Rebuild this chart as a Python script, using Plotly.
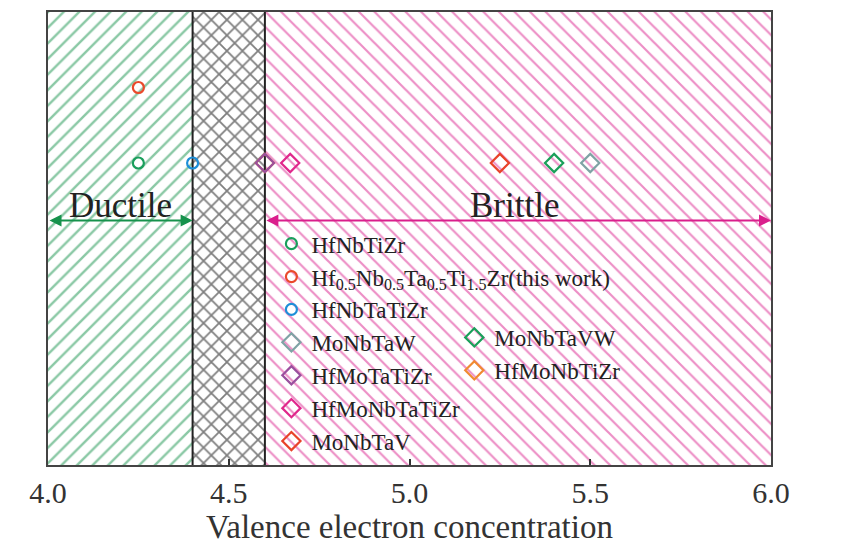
import plotly.graph_objects as go

# ---- data ----
alloys = ["HfNbTiZr", "Hf<sub>0.5</sub>Nb<sub>0.5</sub>Ta<sub>0.5</sub>Ti<sub>1.5</sub>Zr(this work)",
          "HfNbTaTiZr", "MoNbTaW", "HfMoTaTiZr", "HfMoNbTaTiZr", "MoNbTaV",
          "MoNbTaVW", "HfMoNbTiZr"]
vec = [4.25, 4.25, 4.40, 5.50, 4.60, 4.67, 5.25, 5.40, 4.60]
ypos = [2.0, 2.5, 2.0, 2.0, 2.0, 2.0, 2.0, 2.0, 2.0]
symbols = ["circle-open", "circle-open", "circle-open", "diamond-open", "diamond-open",
           "diamond-open", "diamond-open", "diamond-open", "diamond-open"]
colors = ["#1a9e5c", "#ea4a2c", "#1e8fd8", "#7fa3a5", "#9a509e", "#e0288c",
          "#e8432a", "#1aa05a", "#f08a32"]
legend_group = ["legend", "legend", "legend", "legend", "legend", "legend", "legend",
                "legend2", "legend2"]
draw_order = [8, 0, 1, 2, 3, 4, 5, 6, 7]

ductile_limit = 4.4
brittle_limit = 4.6
x_min, x_max = 4.0, 6.0
y_min, y_max = 0.0, 3.0
arrow_y = 1.62
label_y = 1.72

GREEN = "#16924c"
PINK = "#da1e8c"
FONT = "Liberation Serif"

fig = go.Figure()

# hatched regions
regions = [
    (x_min, ductile_limit, "/", GREEN, 11, 0.22),
    (ductile_limit, brittle_limit, "x", "#000000", 11, 0.3),
    (brittle_limit, x_max, "\\", PINK, 11, 0.2),
]
for x0, x1, shp, col, sz, sol in regions:
    fig.add_trace(go.Scatter(
        x=[x0, x1, x1, x0, x0], y=[y_min, y_min, y_max, y_max, y_min],
        mode="lines", line=dict(width=0), fill="toself", fillcolor="white",
        fillpattern=dict(shape=shp, fgcolor=col, bgcolor="white", size=sz, solidity=sol),
        showlegend=False, hoverinfo="skip"))

# boundary lines
for xb in (ductile_limit, brittle_limit):
    fig.add_trace(go.Scatter(x=[xb, xb], y=[y_min, y_max], mode="lines",
                             line=dict(color="#222222", width=2),
                             showlegend=False, hoverinfo="skip"))

# data points
for i in draw_order:
    is_circle = symbols[i].startswith("circle")
    fig.add_trace(go.Scatter(
        x=[vec[i]], y=[ypos[i]], mode="markers", name=alloys[i],
        marker=dict(symbol=symbols[i], size=11 if is_circle else 14,
                    color=colors[i], line=dict(width=2.2, color=colors[i])),
        legend=legend_group[i], legendrank=i))

# arrows
fig.add_annotation(x=ductile_limit, y=arrow_y, ax=x_min, ay=arrow_y,
                   xref="x", yref="y", axref="x", ayref="y", text="",
                   showarrow=True, arrowhead=2, startarrowhead=2, arrowside="end+start",
                   arrowsize=1.2, arrowwidth=2, arrowcolor=GREEN)
fig.add_annotation(x=x_max, y=arrow_y, ax=brittle_limit, ay=arrow_y,
                   xref="x", yref="y", axref="x", ayref="y", text="",
                   showarrow=True, arrowhead=2, startarrowhead=2, arrowside="end+start",
                   arrowsize=1.2, arrowwidth=2, arrowcolor=PINK)
fig.add_annotation(x=4.2, y=label_y, text="Ductile", showarrow=False,
                   font=dict(family=FONT, size=35, color="#222222"))
fig.add_annotation(x=5.29, y=label_y, text="Brittle", showarrow=False,
                   font=dict(family=FONT, size=35, color="#222222"))

fig.update_layout(
    width=845, height=549,
    margin=dict(l=40, r=82, t=4, b=92),
    paper_bgcolor="white", plot_bgcolor="white",
    font=dict(family=FONT, color="#222222"),
    legend=dict(x=0.309, y=0.536, xanchor="left", yanchor="top",
                bgcolor="rgba(0,0,0,0)", font=dict(family=FONT, size=23, color="#222222"),
                tracegroupgap=0, itemwidth=30),
    legend2=dict(x=0.562, y=0.329, xanchor="left", yanchor="top",
                 bgcolor="rgba(0,0,0,0)", font=dict(family=FONT, size=23, color="#222222"),
                 tracegroupgap=0, itemwidth=30),
    xaxis=dict(range=[x_min, x_max], tickvals=[4.0, 4.5, 5.0, 5.5, 6.0],
               ticktext=["4.0", "4.5", "5.0", "5.5", "6.0"],
               ticks="inside", ticklen=6, tickwidth=1.5, tickcolor="#333333",
               showline=True, linecolor="#444444", linewidth=2, mirror=True,
               showgrid=False, zeroline=False, automargin=False,
               tickfont=dict(family=FONT, size=30, color="#333333"),
               title=dict(text="Valence electron concentration",
                          font=dict(family=FONT, size=33, color="#333333"), standoff=2)),
    yaxis=dict(range=[y_min, y_max], showticklabels=False, ticks="",
               showline=True, linecolor="#444444", linewidth=2, mirror=True,
               showgrid=False, zeroline=False, automargin=False),
)

fig.write_html("out.html")
